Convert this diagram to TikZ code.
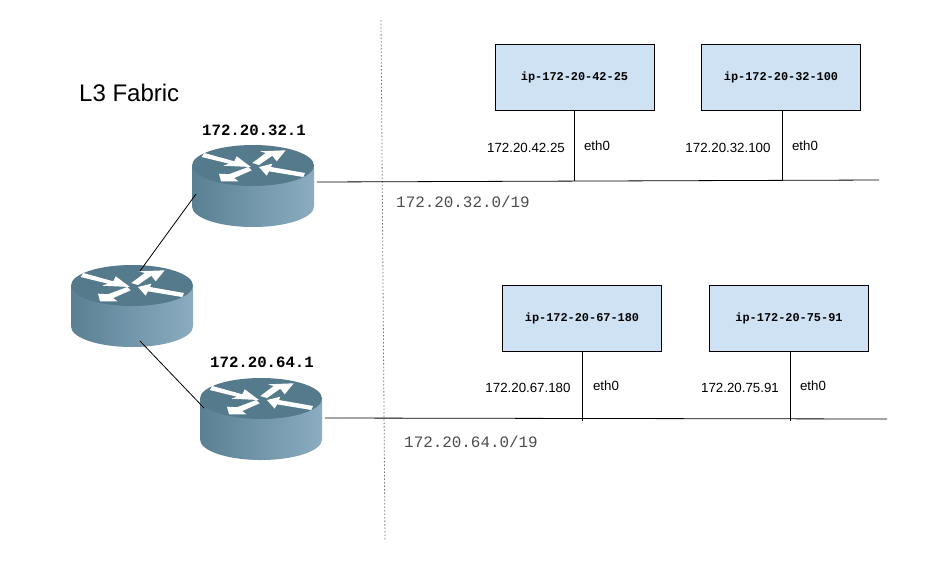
\documentclass[tikz,border=0pt]{standalone}
\usepackage{fontspec}
\setmainfont{Liberation Sans}
\setmonofont{Liberation Mono}
\definecolor{routertop}{HTML}{557A8C}
\definecolor{routerleft}{HTML}{5A8094}
\definecolor{routerright}{HTML}{8BACC1}
\definecolor{hostfill}{HTML}{CFE2F3}
\tikzset{
  hostbox/.style={draw=black,fill=hostfill,minimum width=159pt,minimum height=66pt,inner sep=0pt,font=\ttfamily\bfseries\fontsize{11.9}{14}\selectfont},
  iplabel/.style={inner sep=0pt,font=\fontsize{13.3}{16}\selectfont},
  netlabel/.style={inner sep=0pt,text=black!70,font=\ttfamily\fontsize{15.9}{18}\selectfont},
  routerlabel/.style={inner sep=0pt,font=\ttfamily\bfseries\fontsize{15.7}{18}\selectfont},
  wire/.style={draw=black,line width=0.8pt},
  pics/router/.style={code={
    % body, then the top face and its arrows
    \shade[left color=routerleft,right color=routerright,shading angle=90]
      (-61,0) -- (-61,41) arc[start angle=180,end angle=360,x radius=61pt,y radius=20.5pt] -- (61,0) -- cycle;
    \fill[routertop] (0,0) ellipse[x radius=61pt,y radius=20.5pt];
    \fill[white] (-48.7,-12.5) -- (-18.7,-4.2) -- (-16.3,-9.2) -- (-2,1.5) -- (-29.7,0.2) -- (-24,-1.8) -- (-51.3,-8.5) -- cycle;
    \fill[white] (-0.7,-2.5) -- (12.7,-12.5) -- (7,-14.2) -- (32.7,-15.2) -- (23.7,-4.2) -- (19.3,-9.8) -- (6,-0.5) -- cycle;
    \fill[white] (6,1.5) -- (19.3,-1.8) -- (18,1.5) -- (52,7.5) -- (50.3,11.5) -- (16,5.8) -- (13.7,10.2) -- cycle;
    \fill[white] (-4.7,1.5) -- (-1.3,4.8) -- (-18.7,12.5) -- (-14.7,15.8) -- (-32,15.8) -- (-34,8.2) -- (-24,8.7) -- cycle;
  }}
}
\begin{document}
\begin{tikzpicture}[x=1pt,y=-1pt]
  \useasboundingbox (0,0) rectangle (944,566);

  % Routers
  \pic at (253,165.5) {router};
  \pic at (132,285.5) {router};
  \pic at (261,398.5) {router};
  \node[inner sep=0pt,anchor=west,font=\fontsize{24}{28}\selectfont] (fabric) at (79,93) {L3 Fabric};
  \node[routerlabel] (rlabela) at (254,130) {172.20.32.1};
  \node[routerlabel] (rlabelb) at (262,362) {172.20.64.1};

  % Links between routers
  \coordinate (ra) at (196,194);
  \coordinate (rc) at (140,271);
  \coordinate (rd) at (140,341);
  \coordinate (rb) at (204,408);
  \draw[wire] (ra) -- (rc);
  \draw[wire] (rd) -- (rb);

  % Divider
  \coordinate (divtop) at (381,20);
  \coordinate (divbot) at (385,541);
  \draw[black!55,line width=0.8pt,dash pattern=on 1.5pt off 2pt] (divtop) -- (divbot);

  % Networks
  \coordinate (netaw) at (317,182);
  \coordinate (netae) at (879,180);
  \coordinate (netbw) at (325,418);
  \coordinate (netbe) at (887,419);
  \draw[wire] (netaw) -- (netae);
  \draw[wire] (netbw) -- (netbe);
  \node[netlabel] (netalabel) at (463,202) {172.20.32.0/19};
  \node[netlabel] (netblabel) at (471,442) {172.20.64.0/19};

  % Hosts
  \node[hostbox] (hosta) at (574.5,77) {ip-172-20-42-25};
  \node[hostbox] (hostb) at (781,77) {ip-172-20-32-100};
  \node[hostbox] (hostc) at (582,318) {ip-172-20-67-180};
  \node[hostbox] (hostd) at (789,318) {ip-172-20-75-91};
  \coordinate (tapa) at (574,181);
  \coordinate (tapb) at (782,180);
  \coordinate (tapc) at (582,421);
  \coordinate (tapd) at (790,421);
  \draw[wire] (hosta.south -| tapa) -- (tapa);
  \draw[wire] (hostb.south -| tapb) -- (tapb);
  \draw[wire] (hostc.south -| tapc) -- (tapc);
  \draw[wire] (hostd.south -| tapd) -- (tapd);

  % Addresses
  \node[iplabel] (ipa) at (526,148) {172.20.42.25};
  \node[iplabel] (ipb) at (728,148) {172.20.32.100};
  \node[iplabel] (ipc) at (528,388) {172.20.67.180};
  \node[iplabel] (ipd) at (740,388) {172.20.75.91};
  \node[iplabel] (etha) at (597,146) {eth0};
  \node[iplabel] (ethb) at (805,146) {eth0};
  \node[iplabel] (ethc) at (606,386) {eth0};
  \node[iplabel] (ethd) at (813,386) {eth0};
\end{tikzpicture}
\end{document}
